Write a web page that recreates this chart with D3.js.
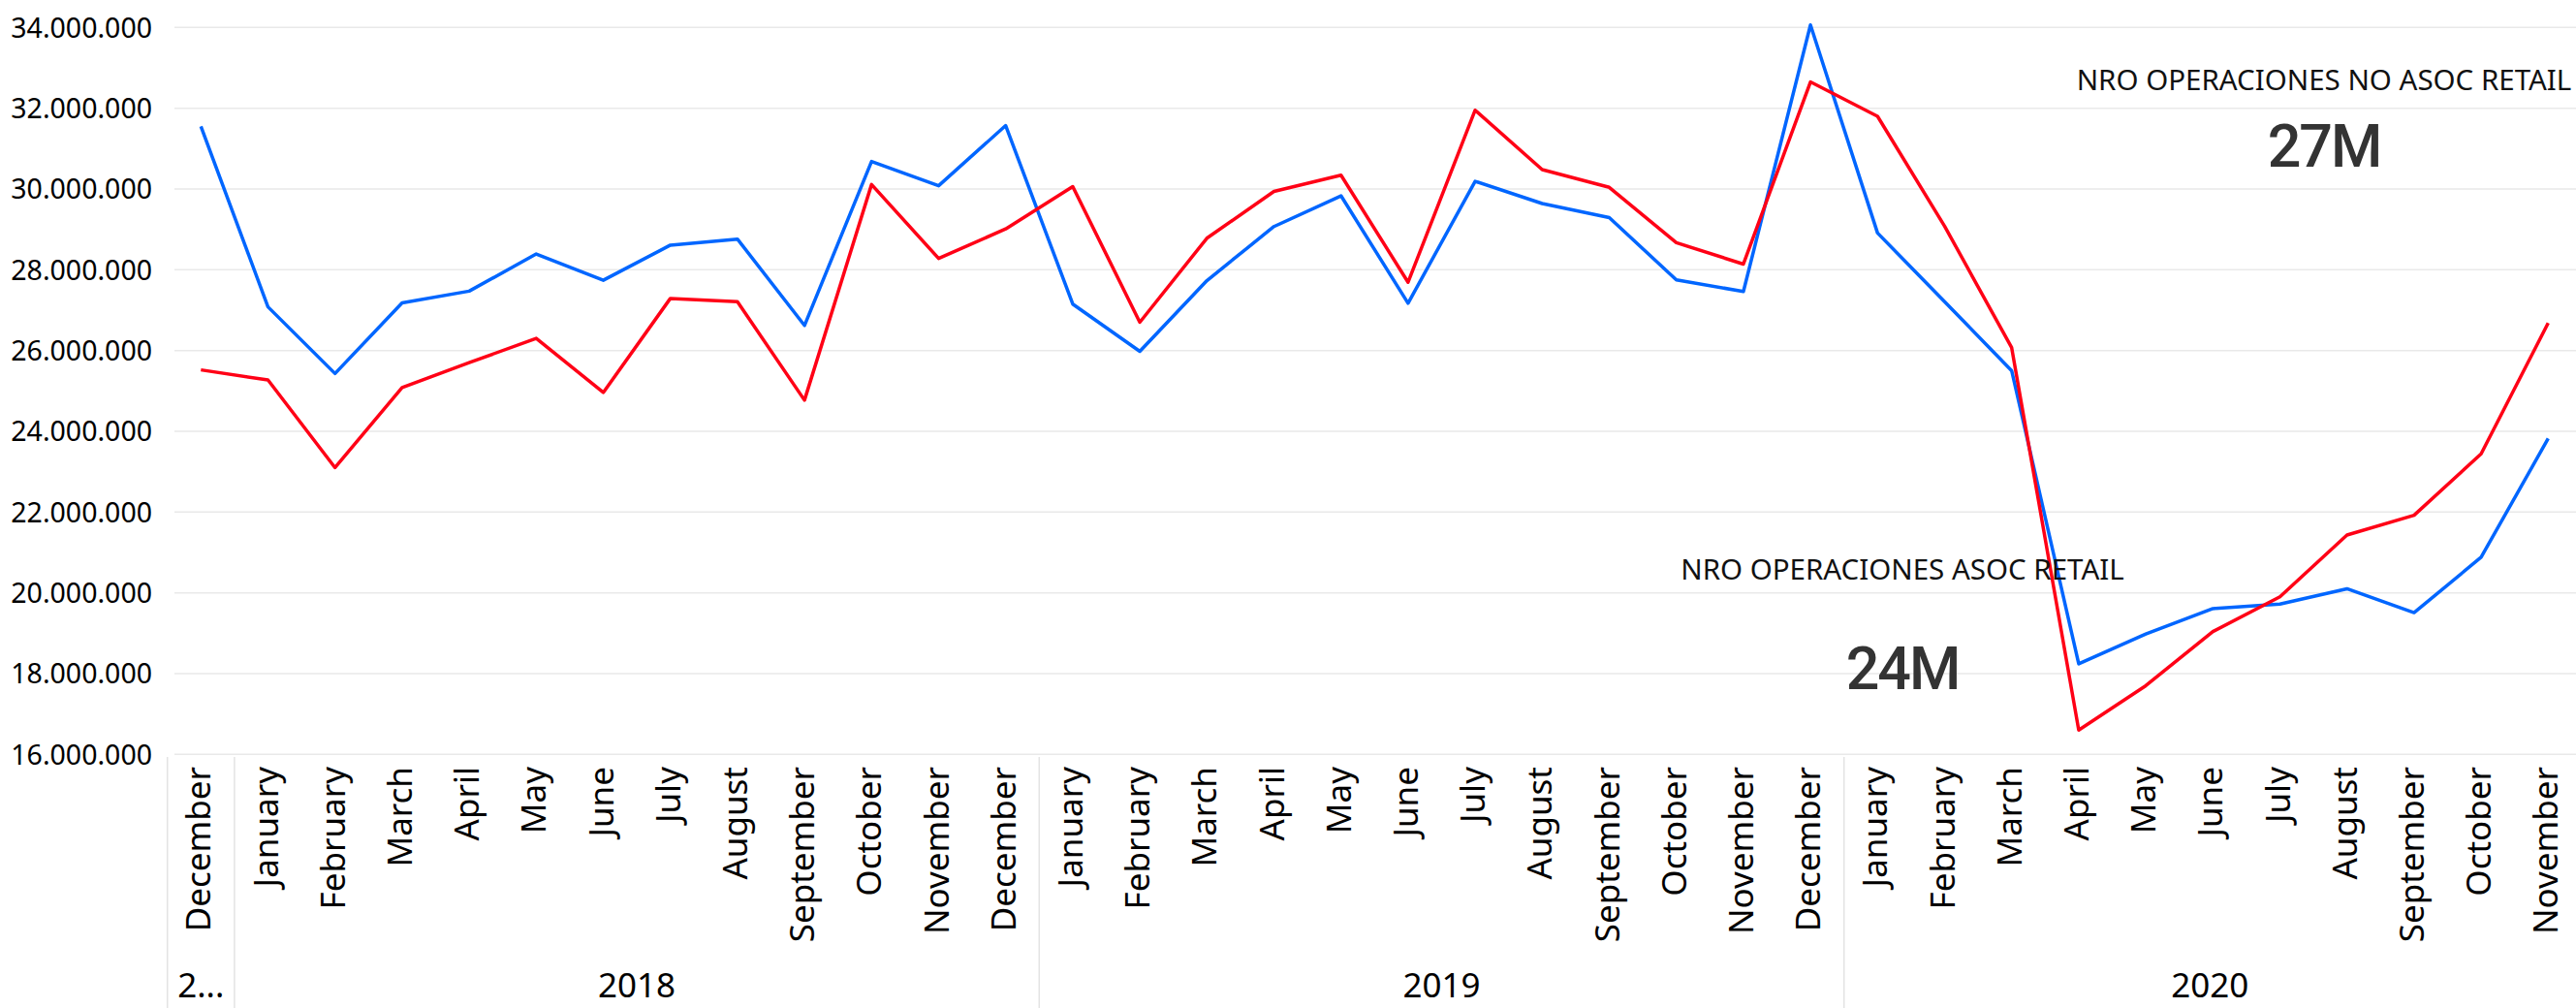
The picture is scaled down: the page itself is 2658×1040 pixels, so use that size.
<!DOCTYPE html>
<html>
<head>
<meta charset="utf-8">
<script src="https://cdn.jsdelivr.net/npm/d3@7"></script>
<style>
  html, body { margin: 0; padding: 0; background: #fff; }
  svg { display: block; }
</style>
</head>
<body>
<div id="chart"></div>
<script>
(function(){
  'use strict';

  // month / year categories, Dec 2017 .. Nov 2020
  var monthNames = [
    'December',
    'January','February','March','April','May','June','July','August','September','October','November','December',
    'January','February','March','April','May','June','July','August','September','October','November','December',
    'January','February','March','April','May','June','July','August','September','October','November'
  ];
  var monthYears = [
    2017,
    2018,2018,2018,2018,2018,2018,2018,2018,2018,2018,2018,2018,
    2019,2019,2019,2019,2019,2019,2019,2019,2019,2019,2019,2019,
    2020,2020,2020,2020,2020,2020,2020,2020,2020,2020,2020
  ];
  var yearLabels = {2017: '2...', 2018: '2018', 2019: '2019', 2020: '2020'};

  var asocRetail = [
    31550000,
    27080000,25430000,27180000,27470000,28390000,27740000,28610000,28760000,26620000,30680000,30080000,31570000,
    27150000,25980000,27730000,29070000,29830000,27170000,30190000,29640000,29290000,27750000,27460000,34060000,
    28910000,27210000,25500000,18240000,18980000,19610000,19720000,20100000,19510000,20880000,23820000
  ];
  var noAsocRetail = [
    25520000,
    25270000,23100000,25080000,25700000,26300000,24960000,27290000,27210000,24770000,30110000,28280000,29010000,
    30060000,26700000,28780000,29940000,30340000,27690000,31950000,30480000,30040000,28670000,28140000,32650000,
    31800000,29080000,26070000,16600000,17700000,19040000,19900000,21430000,21920000,23440000,26680000
  ];
  var yTicks = [16000000,18000000,20000000,22000000,24000000,26000000,28000000,30000000,32000000,34000000];

  var w = 2658,
      h = 1040,
      font = '"Segoe UI", "Noto Sans", sans-serif';

  var svg = d3.select('#chart').append('svg')
    .attr('width', w)
    .attr('height', h);

  var keys = monthNames.map(function(m, i){ return i; });

  var x = d3.scaleBand()
    .domain(keys)
    .range([172.7, 172.7 + 36 * 69.2])
    .padding(0);

  var y = d3.scaleLinear()
    .domain([16000000, 34000000])
    .range([778.3, 28.3]);

  var cx = function(i){ return x(i) + x.bandwidth() / 2; };

  var loc = d3.formatLocale({decimal: ',', thousands: '.', grouping: [3], currency: ['', '']});
  var fmt = loc.format(',d');

  // gridlines
  svg.append('g').attr('class', 'grid')
    .selectAll('line')
    .data(yTicks)
    .enter().append('line')
    .attr('x1', 180).attr('x2', w)
    .attr('y1', function(d){ return y(d); })
    .attr('y2', function(d){ return y(d); })
    .style('stroke', '#e9e9e9')
    .style('stroke-width', 1.5);

  // y axis labels
  var yAxis = d3.axisLeft(y)
    .tickValues(yTicks)
    .tickFormat(fmt)
    .tickSize(0)
    .tickPadding(0);

  var gy = svg.append('g')
    .attr('transform', 'translate(157, 0)')
    .attr('class', 'y axis')
    .call(yAxis);
  gy.select('.domain').remove();
  gy.selectAll('text')
    .style('font-family', font)
    .style('font-size', '28.5px')
    .style('fill', '#000')
    .attr('dy', '0.35em');

  // x axis: month labels
  svg.append('g').attr('class', 'x axis')
    .selectAll('text')
    .data(keys)
    .enter().append('text')
    .attr('transform', function(i){ return 'translate(' + (cx(i) + 10) + ', 791) rotate(-90)'; })
    .attr('text-anchor', 'end')
    .style('font-family', font)
    .style('font-size', '35px')
    .style('fill', '#000')
    .text(function(i){ return monthNames[i]; });

  // year groups
  var years = d3.groups(keys, function(i){ return monthYears[i]; });

  var sepX = years.map(function(g){ return x(g[1][0]); });
  svg.append('g').attr('class', 'separators')
    .selectAll('line')
    .data(sepX)
    .enter().append('line')
    .attr('x1', function(d){ return d; })
    .attr('x2', function(d){ return d; })
    .attr('y1', 781).attr('y2', h)
    .style('stroke', '#e3e3e3')
    .style('stroke-width', 1.5);

  svg.append('g').attr('class', 'years')
    .selectAll('text')
    .data(years)
    .enter().append('text')
    .attr('x', function(g){
      var a = x(g[1][0]), b = Math.min(x(g[1][g[1].length - 1]) + x.bandwidth(), w);
      return (a + b) / 2;
    })
    .attr('y', 1029)
    .attr('text-anchor', 'middle')
    .style('font-family', font)
    .style('font-size', '35px')
    .style('fill', '#000')
    .text(function(g){ return yearLabels[g[0]]; });

  // lines
  var line = d3.line()
    .x(function(d, i){ return cx(i); })
    .y(function(d){ return y(d); });

  svg.append('path')
    .datum(asocRetail)
    .attr('d', line)
    .style('fill', 'none')
    .style('stroke', '#0066FF')
    .style('stroke-width', 3.5)
    .style('stroke-linejoin', 'round');

  svg.append('path')
    .datum(noAsocRetail)
    .attr('d', line)
    .style('fill', 'none')
    .style('stroke', '#FF0016')
    .style('stroke-width', 3.5)
    .style('stroke-linejoin', 'round');

  // cards
  var cardFmt = d3.format('.2s');
  var cards = [
    {title: 'NRO OPERACIONES NO ASOC RETAIL', value: noAsocRetail[noAsocRetail.length - 1], cx: 2398, ty: 93, vy: 172},
    {title: 'NRO OPERACIONES ASOC RETAIL', value: asocRetail[asocRetail.length - 1], cx: 1963, ty: 598, vy: 711}
  ];

  var card = svg.append('g').attr('class', 'cards')
    .selectAll('g')
    .data(cards)
    .enter().append('g');

  card.append('text')
    .attr('x', function(d){ return d.cx; })
    .attr('y', function(d){ return d.ty; })
    .attr('text-anchor', 'middle')
    .style('font-family', font)
    .style('font-size', '29.5px')
    .style('fill', '#111')
    .text(function(d){ return d.title; });

  card.append('text')
    .attr('x', function(d){ return d.cx; })
    .attr('y', function(d){ return d.vy; })
    .attr('text-anchor', 'middle')
    .style('font-family', 'Roboto, sans-serif')
    .style('font-size', '61px')
    .style('font-weight', 500)
    .style('letter-spacing', '-2px')
    .style('fill', '#333')
    .text(function(d){ return cardFmt(d.value); });

}());
</script>
</body>
</html>
